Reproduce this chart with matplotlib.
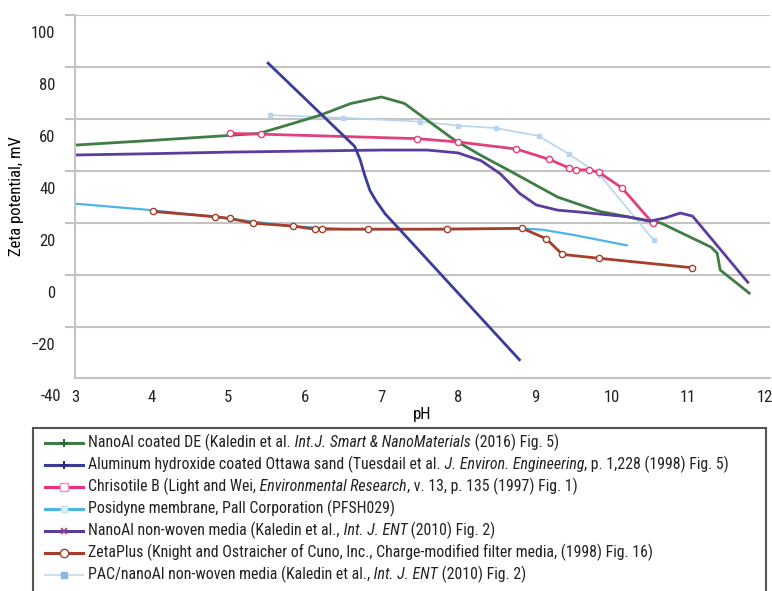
import matplotlib
matplotlib.use("Agg")
import matplotlib.pyplot as plt
import matplotlib.font_manager as fm
from matplotlib.lines import Line2D
from matplotlib.patches import Rectangle
from matplotlib.offsetbox import TextArea, HPacker, VPacker, DrawingArea, AnchoredOffsetbox
from matplotlib.transforms import blended_transform_factory

# pick a narrow sans if one is around
names = {f.name for f in fm.fontManager.ttflist}
base = "Liberation Sans"
for cand in ["Liberation Sans Narrow", "Roboto Condensed", "Liberation Sans"]:
    if cand in names:
        base = cand
        break
plt.rcParams["font.family"] = [base, "DejaVu Sans"]

# data (pH, zeta potential mV)
green_ph = [3.0, 4.0, 4.9, 5.4, 5.75, 6.2, 6.6, 7.0, 7.3, 7.6, 7.95, 8.3, 8.65, 9.3, 9.85, 10.65, 11.3, 11.38, 11.42, 11.8]
green_zeta = [56.5, 58.3, 60, 61, 64, 68, 72.5, 75, 72.5, 66, 58.5, 52.5, 47, 36.5, 31, 26.5, 17.3, 15, 8.5, -0.4]

alhyd_ph = [5.52, 6.65, 6.72, 6.78, 6.85, 6.93, 7.05, 7.24, 8.8]
alhyd_zeta = [88, 56, 51, 45, 39, 35, 30, 24, -26]

chris_ph = [5.02, 5.43, 7.46, 8.0, 8.76, 9.19, 9.45, 9.54, 9.71, 9.84, 10.14, 10.54]
chris_zeta = [61, 60.7, 59, 57.7, 55, 51, 47.7, 47, 47, 46, 40, 26.5]

posi_ph = [3.0, 4.0, 5.0, 5.8, 6.5, 7.5, 8.8, 9.1, 9.5, 10.2]
posi_zeta = [34, 31.5, 28.3, 25.4, 24.2, 24.2, 24.5, 24, 22, 18]

nonwoven_ph = [3.0, 4.0, 5.0, 6.0, 7.0, 7.6, 8.0, 8.3, 8.55, 8.8, 9.02, 9.3, 9.58, 9.85, 10.2, 10.5, 10.7, 10.9, 11.06, 11.78]
nonwoven_zeta = [52.7, 53.2, 53.8, 54.2, 54.6, 54.6, 53.5, 50.5, 45.5, 38, 33.5, 31.5, 30.8, 30, 29, 27.3, 28.5, 30.4, 29.2, 3.8]

zeta_ph = [4.02, 4.83, 5.02, 5.32, 5.84, 6.13, 6.22, 6.83, 7.85, 8.84, 9.15, 9.36, 9.84, 11.05]
zeta_zeta = [31, 29, 28.3, 26.5, 25.4, 24.2, 24.2, 24.2, 24.2, 24.5, 20.5, 14.5, 13, 9.4]

pac_ph = [5.55, 6.5, 7.5, 8.0, 8.5, 9.05, 9.45, 9.85, 10.55]
pac_zeta = [68, 67, 65.5, 64, 63, 60, 53, 45, 20]

# legend labels, (text, italic) pieces
label_parts = [
    [("NanoAl coated DE (Kaledin et al.", False), (" Int.J. Smart & NanoMaterials", True), (" (2016) Fig. 5)", False)],
    [("Aluminum hydroxide coated Ottawa sand (Tuesdail et al.", False), (" J. Environ. Engineering", True), (", p. 1,228 (1998) Fig. 5)", False)],
    [("Chrisotile B (Light and Wei,", False), (" Environmental Research", True), (", v. 13, p. 135 (1997) Fig. 1)", False)],
    [("Posidyne membrane, Pall Corporation (PFSH029)", False)],
    [("NanoAl non-woven media (Kaledin et al.,", False), (" Int. J. ENT", True), (" (2010) Fig. 2)", False)],
    [("ZetaPlus (Knight and Ostraicher of Cuno, Inc., Charge-modified filter media, (1998) Fig. 16)", False)],
    [("PAC/nanoAl non-woven media (Kaledin et al.,", False), (" Int. J. ENT", True), (" (2010) Fig. 2)", False)],
]

c_green = "#3f7d45"
c_alhyd = "#3b3b98"
c_chris = "#e0407c"
c_posi = "#4db4e6"
c_nonwoven = "#5a3d9e"
c_zeta = "#a53f2c"
c_pac = "#b9d4f0"

fig = plt.figure(figsize=(7.72, 5.91), dpi=100)
ax = fig.add_axes([75/772, 1-378/591, 695/772, 363/591])

lw = 2.0
ax.plot(pac_ph, pac_zeta, color=c_pac, lw=1.2, marker="s", ms=2.5, mfc=c_pac, mec=c_pac)
ax.plot(posi_ph, posi_zeta, color=c_posi, lw=1.6)
ax.plot(green_ph, green_zeta, color=c_green, lw=lw)
ax.plot(chris_ph, chris_zeta, color=c_chris, lw=lw, marker="o", ms=4.5, mfc="white", mec=c_chris, mew=1)
ax.plot(nonwoven_ph, nonwoven_zeta, color=c_nonwoven, lw=lw)
ax.plot(zeta_ph, zeta_zeta, color=c_zeta, lw=lw, marker="o", ms=4.5, mfc="white", mec=c_zeta, mew=1)
ax.plot(alhyd_ph, alhyd_zeta, color=c_alhyd, lw=lw)

fs = 12
ax.set_xlim(3, 12.07)
ax.set_ylim(-33, 106.5)
ax.set_xticks(range(3, 13))
ax.set_yticks([-20, 0, 20, 40, 60, 80, 100])
ax.set_yticks([106.5, 86.5, 66.5, 46.5, 26.5, 6.5, -13.5], minor=True)
ax.grid(axis="y", which="minor", color="#c4c4c4", lw=1.5)
ax.tick_params(axis="y", which="major", length=0, pad=14, labelsize=fs, labelcolor="#222222")
ax.tick_params(axis="y", which="minor", length=7, width=1.5, color="#c4c4c4")
ax.tick_params(axis="x", length=0, pad=9, labelsize=fs, labelcolor="#222222")
tr = blended_transform_factory(ax.transAxes, ax.transData)
ax.text(-14/695, -40, "-40", transform=tr, ha="right", va="center", fontsize=fs, color="#222222", clip_on=False)

for s in ["top", "right"]:
    ax.spines[s].set_visible(False)
for s in ["left", "bottom"]:
    ax.spines[s].set_color("#c4c4c4")
    ax.spines[s].set_linewidth(1.5)

ax.set_xlabel("pH", fontsize=fs, labelpad=1)
ax.set_ylabel("Zeta potential, mV", fontsize=fs, labelpad=5)

# legend swatches: line colour/width and the marker drawn in the middle
swatches = [
    (dict(color=c_green, lw=2.2), dict(marker="+", ms=6, mew=1.5, mec="#2d6a35")),
    (dict(color=c_alhyd, lw=2.2), dict(marker="+", ms=6, mew=1.5, mec="#2b2b80")),
    (dict(color="#f0307f", lw=2.2), dict(marker="s", ms=6, mfc="white", mec="#e890b8")),
    (dict(color=c_posi, lw=2.2), dict(marker="s", ms=4, mfc="#dff2fb", mec="#bfe6f7")),
    (dict(color=c_nonwoven, lw=2.2), dict(marker="x", ms=5, mew=1.2, mec="#a0407a")),
    (dict(color=c_zeta, lw=2.2), dict(marker="o", ms=6, mfc="white", mec=c_zeta)),
    (dict(color="#c8dcf2", lw=1.3), dict(marker="s", ms=4, mfc="#8fb5e3", mec="#8fb5e3")),
]

lfs = 11.4
rows = []
for (lstyle, mstyle), parts in zip(swatches, label_parts):
    da = DrawingArea(27.5, 10, 0, 0)
    da.add_artist(Line2D([0, 27.5], [5, 5], **lstyle))
    da.add_artist(Line2D([13.75], [5], ls="none", **mstyle))
    texts = [TextArea(s, textprops=dict(fontsize=lfs, color="#222222",
                                        style="italic" if it else "normal"))
             for s, it in parts]
    txt = HPacker(children=texts, sep=0, pad=0, align="baseline")
    rows.append(HPacker(children=[da, txt], sep=3.5, pad=0, align="center"))

box = VPacker(children=rows, sep=3.4, pad=0, align="left")
anc = AnchoredOffsetbox(loc="upper left", child=box, pad=0, borderpad=0, frameon=False,
                        bbox_to_anchor=(45/772, 1-434/591), bbox_transform=fig.transFigure)
fig.add_artist(anc)
fig.add_artist(Rectangle((33/772, -0.1), 733/772, 1-428/591+0.1, transform=fig.transFigure,
                         fill=False, ec="#555555", lw=1.5))

fig.savefig("out.png", dpi=100)
